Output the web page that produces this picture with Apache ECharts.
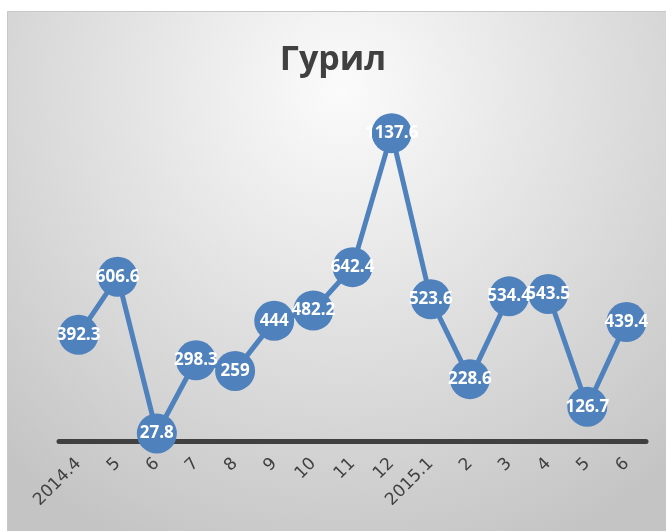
<!DOCTYPE html>
<html>
<head>
<meta charset="utf-8">
<script src="https://cdn.jsdelivr.net/npm/echarts@6/dist/echarts.min.js"></script>
<style>
  html, body { margin: 0; padding: 0; background: #fff; }
  #chart { width: 666px; height: 531px; }
</style>
</head>
<body>
<div id="chart"></div>
<script>
const months = ['2014.4', '5', '6', '7', '8', '9', '10', '11', '12', '2015.1', '2', '3', '4', '5', '6']
const values = [392.3, 606.6, 27.8, 298.3, 259, 444, 482.2, 642.4, 1137.6, 523.6, 228.6, 534.4, 543.5, 126.7, 439.4]

const chart = echarts.init(document.getElementById('chart'))
const option = {
  animation: false,
  graphic: [
    {
      type: 'rect',
      left: 7,
      top: 11,
      z: -10,
      shape: { width: 666, height: 525 },
      style: {
        fill: {
          type: 'radial',
          x: 0.5, y: 0.15, r: 0.95,
          colorStops: [
            { offset: 0, color: '#fbfbfb' },
            { offset: 1, color: '#c4c4c4' }
          ]
        },
        stroke: '#c8c8c8',
        lineWidth: 1
      }
    }
  ],
  title: {
    text: 'Гурил',
    left: 'center',
    top: 38,
    textStyle: {
      color: '#404040',
      fontSize: 34,
      fontWeight: 'bold',
      fontFamily: 'Open Sans'
    }
  },
  grid: {
    top: 100,
    bottom: 90,
    left: 59,
    right: 20
  },
  xAxis: {
    type: 'category',
    data: months,
    boundaryGap: true,
    axisLine: { lineStyle: { color: '#404040', width: 5 } },
    axisTick: { show: false },
    axisLabel: {
      rotate: 45,
      color: '#404040',
      fontSize: 17,
      fontFamily: 'DejaVu Sans',
      margin: 20
    }
  },
  yAxis: {
    type: 'value',
    min: 0,
    max: 1260,
    show: false,
    splitLine: { show: false }
  },
  series: [
    {
      type: 'line',
      data: values,
      symbol: 'circle',
      symbolSize: 40,
      z: 3,
      lineStyle: { color: '#4f81bd', width: 5 },
      itemStyle: { color: '#4f81bd' },
      label: {
        show: true,
        position: 'inside',
        color: '#ffffff',
        fontSize: 17,
        fontWeight: 'bold',
        fontFamily: 'Open Sans'
      }
    }
  ]
}
chart.setOption(option)
</script>
</body>
</html>
